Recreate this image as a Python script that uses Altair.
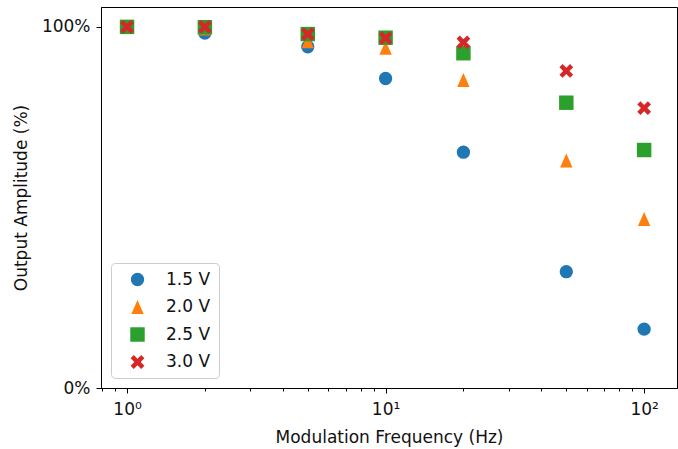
import altair as alt
import pandas as pd

freqs = [1, 2, 5, 10, 20, 50, 100]
series = ["1.5 V", "2.0 V", "2.5 V", "3.0 V"]
amp_15 = [100, 98.3, 94.5, 85.7, 65.3, 32.2, 16.3]
amp_20 = [100, 99.5, 96.0, 94.2, 85.3, 63.0, 46.8]
amp_25 = [100, 99.9, 98.0, 97.0, 92.7, 79.0, 65.9]
amp_30 = [100, 100, 98.0, 96.9, 95.7, 87.8, 77.5]

x_ticks = [0.8, 0.9, 1, 2, 3, 4, 5, 6, 7, 8, 9, 10, 20, 30, 40, 50, 60, 70, 80, 90, 100]
y_ticks = [0, 100]

colors = ["#1f77b4", "#ff7f0e", "#2ca02c", "#d62728"]
x_path = ("M0.919,-0.495 L0.424,0 L0.919,0.495 L0.495,0.919 L0,0.424 L-0.495,0.919 "
          "L-0.919,0.495 L-0.424,0 L-0.919,-0.495 L-0.495,-0.919 L0,-0.424 L0.495,-0.919 Z")
tri_path = "M0,-1 L0.89,1 L-0.89,1 Z"
shapes = ["circle", tri_path, "square", x_path]
sizes = [177, 225, 256, 232]

rows = []
for name, vals in zip(series, [amp_15, amp_20, amp_25, amp_30]):
    for f, v in zip(freqs, vals):
        rows.append({"freq": f, "amp": v, "series": name})
df = pd.DataFrame(rows)

FONT = "DejaVu Sans"
FS = 17

chart = alt.Chart(df).mark_point(filled=True, opacity=1).encode(
    x=alt.X("freq:Q",
            scale=alt.Scale(type="log", domain=[0.793, 134], nice=False, zero=False),
            axis=alt.Axis(values=x_ticks, grid=False, title="Modulation Frequency (Hz)",
                          labelExpr="datum.value == 1 ? '10⁰' : datum.value == 10 ? '10¹' : datum.value == 100 ? '10²' : ''",
                          labelOverlap=False, labelBound=False, labelFlush=False,
                          tickSize={"condition": {"test": "datum.value == 1 || datum.value == 10 || datum.value == 100", "value": 5}, "value": 3},
                          labelPadding=8, titlePadding=12)),
    y=alt.Y("amp:Q",
            scale=alt.Scale(domain=[0, 105.5], nice=False, zero=False),
            axis=alt.Axis(values=y_ticks, grid=False, title="Output Amplitude (%)",
                          labelExpr="datum.value + '%'", tickSize=5, labelPadding=6,
                          titlePadding=11)),
    color=alt.Color("series:N", title=None,
                    scale=alt.Scale(domain=series, range=colors)),
    shape=alt.Shape("series:N", title=None,
                    scale=alt.Scale(domain=series, range=shapes)),
    size=alt.Size("series:N", title=None,
                  scale=alt.Scale(domain=series, range=sizes)),
).properties(
    width=576, height=381,
    autosize=alt.AutoSizeParams(type="none"),
    padding={"left": 101, "top": 7, "right": 1, "bottom": 61},
).configure_view(
    stroke="black", strokeWidth=1
).configure_axis(
    domainColor="black", tickColor="black", labelColor="#111111", titleColor="#111111",
    labelFont=FONT, titleFont=FONT, labelFontSize=FS, titleFontSize=FS,
    titleFontWeight="normal", domainWidth=1, tickWidth=1
).configure_legend(
    orient="bottom-left", offset=10, padding=8, strokeColor="#cccccc",
    cornerRadius=4, fillColor="white", labelFont=FONT, labelFontSize=FS,
    labelColor="#111111", rowPadding=9.5, symbolOffset=10, labelOffset=20,
    symbolStrokeWidth=0
)

chart.save("out.html", embed_options={"renderer": "svg", "actions": False})
